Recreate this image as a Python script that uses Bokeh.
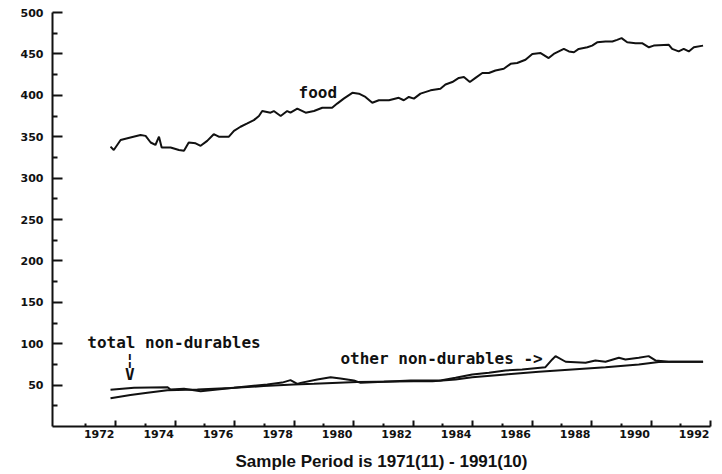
import numpy as np
from bokeh.plotting import figure
from bokeh.models import FixedTicker, Label, Range1d, CustomJSTickFormatter, LinearAxis
from bokeh.embed import file_html
from bokeh.resources import INLINE

# ---- data ----
food_year = [1971.83, 1971.94, 1972.17, 1972.50, 1972.84, 1973.01, 1973.18, 1973.34, 1973.46, 1973.55,
             1973.85, 1974.13, 1974.30, 1974.46, 1974.69, 1974.86, 1975.08, 1975.30, 1975.47, 1975.81,
             1975.98, 1976.20, 1976.43, 1976.65, 1976.82, 1976.93, 1977.21, 1977.32, 1977.55, 1977.77,
             1977.88, 1978.11, 1978.39, 1978.67, 1978.95, 1979.28, 1979.45, 1979.67, 1979.96, 1980.18,
             1980.40, 1980.63, 1980.85, 1981.19, 1981.52, 1981.69, 1981.86, 1982.03, 1982.25, 1982.59,
             1982.92, 1983.09, 1983.32, 1983.54, 1983.71, 1983.91, 1984.10, 1984.33, 1984.55, 1984.77,
             1985.05, 1985.28, 1985.50, 1985.78, 1986.01, 1986.29, 1986.56, 1986.73, 1987.07, 1987.24,
             1987.41, 1987.57, 1987.86, 1988.02, 1988.19, 1988.47, 1988.70, 1988.86, 1989.01, 1989.20,
             1989.48, 1989.70, 1989.93, 1990.09, 1990.60, 1990.71, 1990.93, 1991.10, 1991.27, 1991.44,
             1991.75]
food_value = [338, 334, 346, 349, 352, 351, 343, 340, 350, 337,
              337, 334, 333, 343, 342, 339, 345, 353, 350, 350,
              357, 362, 366, 370, 375, 381, 379, 381, 375, 381,
              379, 384, 379, 381, 385, 385, 390, 396, 403, 402,
              398, 391, 394, 394, 397, 394, 398, 396, 402, 406,
              408, 413, 416, 421, 422, 416, 421, 427, 427, 430,
              432, 438, 439, 443, 450, 451, 445, 450, 456, 453,
              452, 456, 458, 460, 464, 465, 465, 467, 469, 464,
              463, 463, 458, 460, 461, 456, 453, 456, 453, 458,
              460]

total_year = [1971.83, 1972.50, 1973.07, 1973.74, 1974.75, 1975.87, 1976.98, 1977.99, 1978.67, 1980.12,
              1982.03, 1982.65, 1983.43, 1983.99, 1985.11, 1986.23, 1987.35, 1988.47, 1989.59, 1990.26,
              1990.71, 1991.75]
total_value = [34, 38, 40.7, 43.9, 44.8, 46.5, 48.8, 50.8, 51.5, 53.6,
               54.8, 54.5, 56.8, 59.6, 62.9, 66, 68.9, 71.7, 75, 78,
               78.2, 78.2]

other_year = [1971.83, 1972.62, 1973.74, 1973.85, 1974.30, 1974.86, 1975.98, 1977.10, 1977.60, 1977.88,
              1978.11, 1978.22, 1978.78, 1979.23, 1979.56, 1980.01, 1980.24, 1981.02, 1981.92, 1982.92,
              1983.43, 1983.99, 1984.55, 1985.11, 1985.67, 1986.45, 1986.68, 1986.79, 1987.13, 1987.80,
              1988.13, 1988.47, 1988.92, 1989.14, 1989.59, 1989.92, 1990.15, 1990.60, 1991.16, 1991.75]
other_value = [44.5, 46.7, 47.5, 44.7, 45.5, 42.7, 46.7, 50.8, 53, 56,
               51.5, 52.7, 56.8, 59.6, 58, 55.6, 52.7, 54, 55.6, 55.5,
               58.8, 62.9, 64.8, 67.7, 68.9, 71.7, 81, 85, 78.2, 77,
               79.8, 78.2, 83, 81, 83, 85, 79.8, 78.2, 78.2, 78.2]

x_tick_years = [1972, 1974, 1976, 1978, 1980, 1982, 1984, 1986, 1988, 1990, 1992]
x_tick_labels = ["1972", "1974", "1976", "1978", "1980", "1982", "1984", "1986", "1988", "1990", "1992"]
x_minor_years = [1971, 1973, 1975, 1977, 1979, 1981, 1983, 1985, 1987, 1989, 1991]
y_ticks = [50, 100, 150, 200, 250, 300, 350, 400, 450, 500]
y_minor_ticks = [25, 75, 125, 175, 225, 275, 325, 375, 425, 475]

title_text = "Sample Period is 1971(11) - 1991(10)"

# ---- figure ----
p = figure(width=722, height=474, x_range=Range1d(1969.88, 1992.0), y_range=Range1d(0, 500),
           output_backend="svg", toolbar_location=None,
           min_border_left=52, min_border_right=12, min_border_top=12, min_border_bottom=48)
p.outline_line_color = None
p.grid.visible = False

ink = "#111111"
p.line(food_year, food_value, line_color=ink, line_width=2)
p.line(total_year, total_value, line_color=ink, line_width=2)
p.line(other_year, other_value, line_color=ink, line_width=2)

# y axis
ya = p.yaxis[0]
ya.ticker = FixedTicker(ticks=y_ticks, minor_ticks=y_minor_ticks)
ya.axis_line_width = 2
ya.axis_line_color = ink
ya.major_tick_in = 10
ya.major_tick_out = 0
ya.minor_tick_in = 5
ya.minor_tick_out = 0
ya.major_tick_line_width = 2
ya.minor_tick_line_width = 2
ya.major_tick_line_color = ink
ya.minor_tick_line_color = ink
ya.major_label_standoff = 9
ya.major_label_text_font = "DejaVu Sans"
ya.major_label_text_font_style = "bold"
ya.major_label_text_font_size = "11px"
ya.major_label_text_color = ink

# x axis: tick marks only
xa = p.xaxis[0]
xa.ticker = FixedTicker(ticks=x_tick_years, minor_ticks=x_minor_years)
xa.axis_line_width = 2
xa.axis_line_color = ink
xa.major_tick_in = 6
xa.major_tick_out = 0
xa.minor_tick_in = 3
xa.minor_tick_out = 0
xa.major_tick_line_width = 2
xa.minor_tick_line_width = 2
xa.major_tick_line_color = ink
xa.minor_tick_line_color = ink
xa.major_label_standoff = 0
xa.formatter = CustomJSTickFormatter(code="return '';")

# second axis below: year labels drawn just left of their ticks, plus the period caption
label_shift = 0.55
label_pos = [yr - label_shift for yr in x_tick_years]
la = LinearAxis(ticker=FixedTicker(ticks=label_pos, minor_ticks=[]),
                formatter=CustomJSTickFormatter(args=dict(off=label_shift),
                                                code="return (tick + off).toFixed(0);"),
                axis_line_color=None, major_tick_line_color=None, minor_tick_line_color=None,
                major_tick_in=0, major_tick_out=0, minor_tick_in=0, minor_tick_out=0,
                major_label_standoff=3,
                major_label_text_font="DejaVu Sans", major_label_text_font_style="bold",
                major_label_text_font_size="11px", major_label_text_color=ink,
                axis_label=title_text, axis_label_standoff=11,
                axis_label_text_font="Liberation Sans", axis_label_text_font_style="bold",
                axis_label_text_font_size="17px", axis_label_text_color=ink)
p.add_layout(la, "below")

# annotations
mono = dict(text_font="DejaVu Sans Mono", text_font_style="bold", text_font_size="16px", text_color=ink)
p.add_layout(Label(x=1978.15, y=403, text="food", text_baseline="alphabetic", **mono))
p.add_layout(Label(x=1971.05, y=101, text="total non-durables", text_baseline="alphabetic", **mono))
p.add_layout(Label(x=1972.48, y=81, text="\u00a6", text_align="center", text_baseline="middle", **mono))
p.add_layout(Label(x=1972.48, y=62.5, text="V", text_align="center", text_baseline="middle", **mono))
p.add_layout(Label(x=1979.56, y=82, text="other non-durables ->", text_baseline="alphabetic", **mono))

open("out.html", "w").write(file_html(p, INLINE))
